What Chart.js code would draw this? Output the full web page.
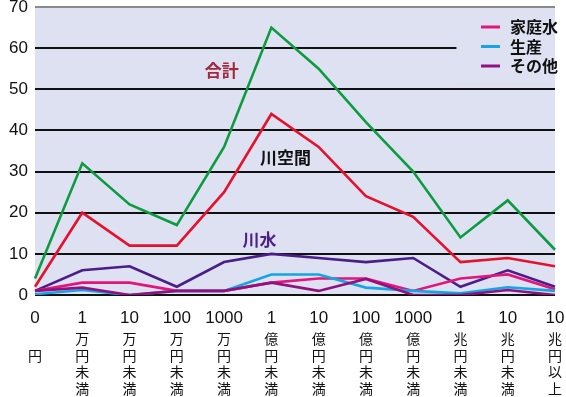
<!DOCTYPE html>
<html>
<head>
<meta charset="utf-8">
<script src="https://cdn.jsdelivr.net/npm/chart.js@4/dist/chart.umd.min.js"></script>
<style>
  html, body { margin: 0; padding: 0; background: #ffffff; }
  #wrap { width: 566px; height: 397px; position: relative; }
</style>
</head>
<body>
<div id="wrap"><canvas id="c" width="566" height="397"></canvas></div>
<script>
// 金額階級（上段：数字、下段：縦書きの単位）
const amountNumbers = ['0', '1', '10', '100', '1000', '1', '10', '100', '1000', '1', '10', '10'];
const amountUnits = ['円', '万円未満', '万円未満', '万円未満', '万円未満', '億円未満', '億円未満', '億円未満', '億円未満', '兆円未満', '兆円未満', '兆円以上'];

// 件数
const totalCounts     = [4, 32, 22, 17, 36, 65, 55, 42, 30, 14, 23, 11];   // 合計
const riverSpace      = [2, 20, 12, 12, 25, 44, 36, 24, 19, 8, 9, 7];      // 川空間
const riverWater      = [1, 6, 7, 2, 8, 10, 9, 8, 9, 2, 6, 2];             // 川水
const domesticWater   = [1, 3, 3, 1, 1, 3, 4, 4, 1, 4, 5, 1.4];            // 家庭水
const productionWater = [0.2, 1.2, 0, 1, 1, 5, 5, 1.8, 1, 0.4, 1.9, 1];    // 生産
const otherUses       = [1, 1.8, 0, 1, 1, 3, 1, 3.9, 0, 0, 1.2, 0];        // その他

const yTicks = [0, 10, 20, 30, 40, 50, 60, 70];

const PLOT_BG = '#dde1f1';

// グラフ内の系列名（データ座標で配置）
const inlineNames = [
  { text: '合計',   color: '#a3283e', idx: 3.95, val: 54.5 },
  { text: '川空間', color: '#111111', idx: 5.3, val: 33.5 },
  { text: '川水',   color: '#4b1f8c', idx: 4.75, val: 13.5 }
];

// 凡例に載せる系列
const legendSeries = ['家庭水', '生産', 'その他'];

const plotBackground = {
  id: 'plotBackground',
  beforeDraw(chart) {
    const { ctx, chartArea: a } = chart;
    ctx.save();
    ctx.fillStyle = PLOT_BG;
    ctx.fillRect(a.left, a.top, a.right - a.left, a.bottom - a.top);
    ctx.restore();
  }
};

// 数字の下に単位を一文字ずつ縦書きで描く
const verticalUnits = {
  id: 'verticalUnits',
  afterDraw(chart) {
    const { ctx, scales: { x } } = chart;
    ctx.save();
    ctx.font = '14px "Noto Sans CJK JP", sans-serif';
    ctx.fillStyle = '#111111';
    ctx.textAlign = 'center';
    ctx.textBaseline = 'middle';
    amountUnits.forEach((u, i) => {
      const cx = x.getPixelForValue(i);
      const chars = Array.from(u);
      const startRow = chars.length === 1 ? 1 : 0;
      chars.forEach((ch, k) => {
        ctx.fillText(ch, cx, 339 + (startRow + k) * 16.5);
      });
    });
    ctx.restore();
  }
};

const namesAndLegend = {
  id: 'namesAndLegend',
  afterDatasetsDraw(chart) {
    const { ctx, scales: { x, y } } = chart;
    ctx.save();
    ctx.font = 'bold 17px "Noto Sans CJK JP", sans-serif';
    ctx.textAlign = 'center';
    ctx.textBaseline = 'middle';
    inlineNames.forEach(n => {
      ctx.fillStyle = n.color;
      ctx.fillText(n.text, x.getPixelForValue(n.idx), y.getPixelForValue(n.val));
    });

    // 凡例（右上）
    const left = x.getPixelForValue(9) - 4;
    const boxTop = y.getPixelForValue(67.5);
    const boxBottom = y.getPixelForValue(51.5);
    ctx.fillStyle = PLOT_BG;
    ctx.fillRect(left, boxTop, chart.chartArea.right - left, boxBottom - boxTop);
    ctx.font = 'bold 16px "Noto Sans CJK JP", sans-serif';
    ctx.textAlign = 'left';
    legendSeries.forEach((name, k) => {
      const ds = chart.data.datasets.find(d => d.label === name);
      const cy = 27 + k * 19.5;
      ctx.strokeStyle = ds.borderColor;
      ctx.lineWidth = 3;
      ctx.beginPath();
      ctx.moveTo(481, cy);
      ctx.lineTo(500, cy);
      ctx.stroke();
      ctx.fillStyle = '#111111';
      ctx.fillText(name, 510, cy);
    });
    ctx.restore();
  }
};

const mk = (label, data, color) => ({
  label, data,
  borderColor: color,
  backgroundColor: color,
  borderWidth: 2.6,
  pointRadius: 0,
  tension: 0,
  fill: false
});

new Chart(document.getElementById('c'), {
  type: 'line',
  data: {
    labels: amountNumbers,
    datasets: [
      mk('その他', otherUses, '#93117f'),
      mk('生産', productionWater, '#12a7e4'),
      mk('家庭水', domesticWater, '#e4157a'),
      mk('川水', riverWater, '#4a1d88'),
      mk('川空間', riverSpace, '#e5112d'),
      mk('合計', totalCounts, '#0c9b3f')
    ]
  },
  options: {
    responsive: false,
    animation: false,
    devicePixelRatio: 1,
    layout: { padding: { left: 0, right: 11, top: 7, bottom: 0 } },
    plugins: { legend: { display: false }, tooltip: { enabled: false } },
    scales: {
      x: {
        offset: false,
        afterFit(scale) {
          scale.height = 102;
          scale.paddingLeft = 0;
          scale.paddingRight = 0;
        },
        grid: { display: false, drawTicks: false },
        border: { display: false },
        ticks: {
          autoSkip: false,
          maxRotation: 0,
          padding: 13,
          color: '#111111',
          font: { family: '"Liberation Sans", Arial, sans-serif', size: 17, lineHeight: 1.2 }
        }
      },
      y: {
        min: 0, max: 70,
        afterBuildTicks(scale) { scale.ticks = yTicks.map(v => ({ value: v })); },
        afterFit(scale) {
          scale.width = 35;
          scale.paddingTop = 0;
          scale.paddingBottom = 0;
        },
        grid: {
          color: ctx => ctx.tick && ctx.tick.value === 70 ? '#8a8a8a' : '#111111',
          lineWidth: 2,
          drawTicks: false
        },
        border: { display: false },
        ticks: {
          padding: 7,
          color: '#111111',
          font: { family: '"Liberation Sans", Arial, sans-serif', size: 17 }
        }
      }
    }
  },
  plugins: [plotBackground, verticalUnits, namesAndLegend]
});
</script>
</body>
</html>
